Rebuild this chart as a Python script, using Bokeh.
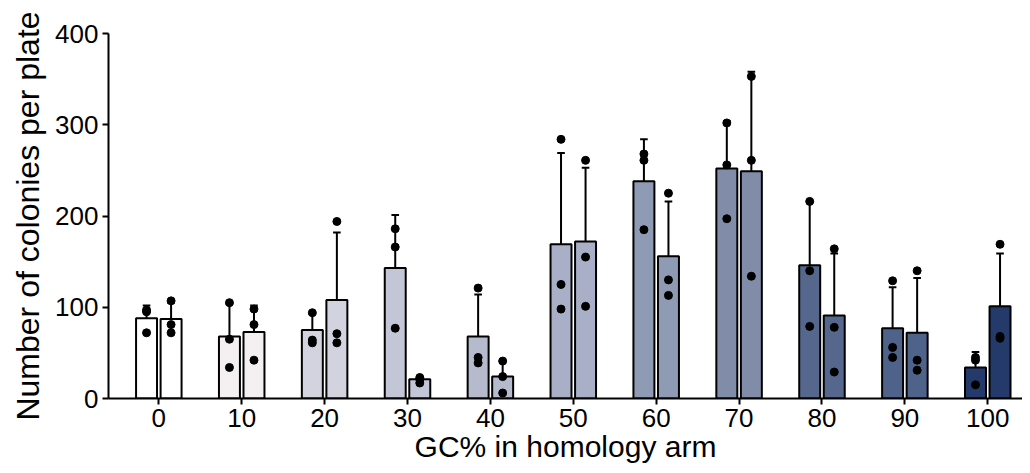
from bokeh.plotting import figure
from bokeh.models import Range1d, FixedTicker, ColumnDataSource
from bokeh.embed import file_html
from bokeh.resources import INLINE

# ---- data ----
gc = [0, 10, 20, 30, 40, 50, 60, 70, 80, 90, 100]
mean_a = [88, 68, 75, 143, 68, 169, 238, 252, 146, 77, 34]
mean_b = [87, 73, 108, 21, 24, 172, 156, 249, 91, 72, 101]
sd_a = [14, 36, 18, 58, 46, 100, 46, 52, 70, 45, 17]
sd_b = [18, 29, 74, 2, 17, 81, 60, 109, 68, 60, 58]
pts_a = [[95, 72, 97], [105, 65, 34], [94, 64, 61], [186, 166, 77], [121, 45, 39],
         [284, 125, 98], [268, 261, 185], [302, 256, 197], [216, 140, 79],
         [129, 56, 45], [45, 42, 15]]
pts_b = [[107, 81, 72], [98, 81, 42], [194, 71, 61], [23, 21, 17], [41, 24, 6],
         [261, 155, 101], [225, 130, 113], [353, 261, 134], [164, 78, 29],
         [140, 42, 31], [169, 68, 66]]
colors = ["#ffffff", "#f4f0f2", "#d2d3de", "#c2c6d6", "#b5bacc", "#a8afc6",
          "#8f9ab5", "#808ca8", "#56678d", "#4f6289", "#233a6b"]

# ---- layout parameters ----
off = 1.48
bw = 2.53
cap = 0.46
FONT = "Liberation Sans"

p = figure(width=1022, height=465, output_backend="svg", toolbar_location=None,
           x_range=Range1d(-6.07, 104.19), y_range=Range1d(0, 400),
           min_border_left=108, min_border_right=0, min_border_top=33,
           min_border_bottom=67)
p.outline_line_color = None
p.xgrid.visible = False
p.ygrid.visible = False
p.background_fill_color = "white"
p.border_fill_color = "white"

for k, (means, sds, pts) in enumerate([(mean_a, sd_a, pts_a), (mean_b, sd_b, pts_b)]):
    sign = -1 if k == 0 else 1
    xs = [g + sign * off for g in gc]
    tops = [m + s for m, s in zip(means, sds)]
    src = ColumnDataSource(dict(x=xs, top=means, color=colors, etop=tops,
                                cl=[x - cap for x in xs], cr=[x + cap for x in xs]))
    p.vbar(x="x", top="top", bottom=0, width=bw, fill_color="color",
           line_color="black", line_width=2, source=src)
    p.segment(x0="x", y0="top", x1="x", y1="etop", line_color="black",
              line_width=2, source=src)
    p.segment(x0="cl", y0="etop", x1="cr", y1="etop", line_color="black",
              line_width=2, source=src)
    px, py = [], []
    for x, vals in zip(xs, pts):
        for v in vals:
            px.append(x)
            py.append(v)
    p.scatter(px, py, size=8, color="black")

p.xaxis.ticker = FixedTicker(ticks=gc)
p.yaxis.ticker = FixedTicker(ticks=[0, 100, 200, 300, 400])
p.xaxis.axis_label = "GC% in homology arm"
p.yaxis.axis_label = "Number of colonies per plate"
for ax in (p.xaxis, p.yaxis):
    ax.axis_line_width = 2
    ax.axis_line_color = "black"
    ax.major_tick_line_width = 2
    ax.major_tick_line_color = "black"
    ax.major_tick_out = 6
    ax.major_tick_in = 0
    ax.minor_tick_out = 0
    ax.minor_tick_in = 0
    ax.major_label_text_font = FONT
    ax.major_label_text_font_size = "26px"
    ax.major_label_text_color = "black"
    ax.axis_label_text_font = FONT
    ax.axis_label_text_font_style = "normal"
    ax.axis_label_text_color = "black"
    ax.major_label_standoff = 4
p.xaxis.axis_label_text_font_size = "30px"
p.yaxis.axis_label_text_font_size = "32px"
p.yaxis.axis_label_standoff = 6
p.xaxis.axis_label_standoff = 0

open("out.html", "w").write(file_html(p, INLINE))
